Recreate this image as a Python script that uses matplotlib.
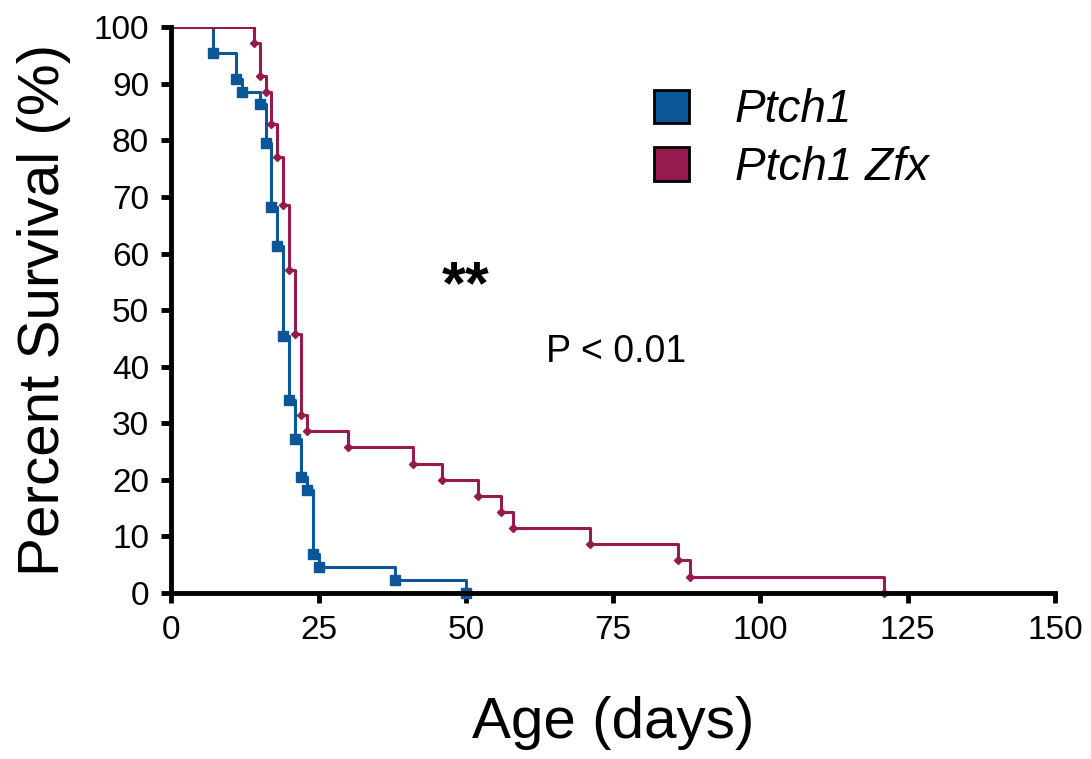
import matplotlib.pyplot as plt
from matplotlib.patches import Patch

plt.rcParams['font.family'] = ['Liberation Sans', 'DejaVu Sans']

# Kaplan-Meier steps: day of each event and percent surviving after it
ptch1_days = [0, 7, 11, 12, 15, 16, 17, 18, 19, 20, 21, 22, 23, 24, 25, 38, 50]
ptch1_surv = [100, 95.45, 90.91, 88.64, 86.36, 79.55, 68.18, 61.36, 45.45,
              34.09, 27.27, 20.45, 18.18, 6.82, 4.55, 2.27, 0]

zfx_days = [0, 14, 15, 16, 17, 18, 19, 20, 21, 22, 23, 30, 41, 46, 52, 56,
            58, 71, 86, 88, 121]
zfx_surv = [100, 97.14, 91.43, 88.57, 82.86, 77.14, 68.57, 57.14, 45.71,
            31.43, 28.57, 25.71, 22.86, 20.0, 17.14, 14.29, 11.43, 8.57,
            5.71, 2.86, 0]

labels = ['Ptch1', 'Ptch1 Zfx']
blue = '#0a5696'
red = '#961a4e'

fig = plt.figure(figsize=(10.91, 7.59), dpi=100)
ax = fig.add_axes([0.157, 0.219, 0.81, 0.745])

ax.step(ptch1_days, ptch1_surv, where='post', color=blue, lw=2.2)
ax.plot(ptch1_days[1:], ptch1_surv[1:], ls='none', marker='s', ms=7,
        color=blue, clip_on=False)
ax.step(zfx_days, zfx_surv, where='post', color=red, lw=2.2)
ax.plot(zfx_days[1:], zfx_surv[1:], ls='none', marker='D', ms=4.5,
        color=red, clip_on=False)

ax.set_xlim(0, 150)
ax.set_ylim(0, 100)
ax.set_xticks(range(0, 151, 25))
ax.set_yticks(range(0, 101, 10))
for s in ['top', 'right']:
    ax.spines[s].set_visible(False)
for s in ['left', 'bottom']:
    ax.spines[s].set_linewidth(3.5)
ax.tick_params(width=3.5, length=7, labelsize=24, pad=9)

ax.set_xlabel('Age (days)', fontsize=42, labelpad=36)
ax.set_ylabel('Percent Survival (%)', fontsize=42, labelpad=16)

ax.text(50, 54, '**', fontsize=44, fontweight='bold', ha='center', va='center')
ax.text(75.5, 42.5, 'P < 0.01', fontsize=27, ha='center', va='center')

handles = [Patch(facecolor=blue, edgecolor='black', lw=2),
           Patch(facecolor=red, edgecolor='black', lw=2)]
ax.legend(handles, labels, loc='upper left', bbox_to_anchor=(0.5, 0.965),
          frameon=False, prop={'style': 'italic', 'size': 33},
          handlelength=0.75, handleheight=0.75, handletextpad=1.0,
          labelspacing=0.3)

fig.savefig('out.png', dpi=100)
